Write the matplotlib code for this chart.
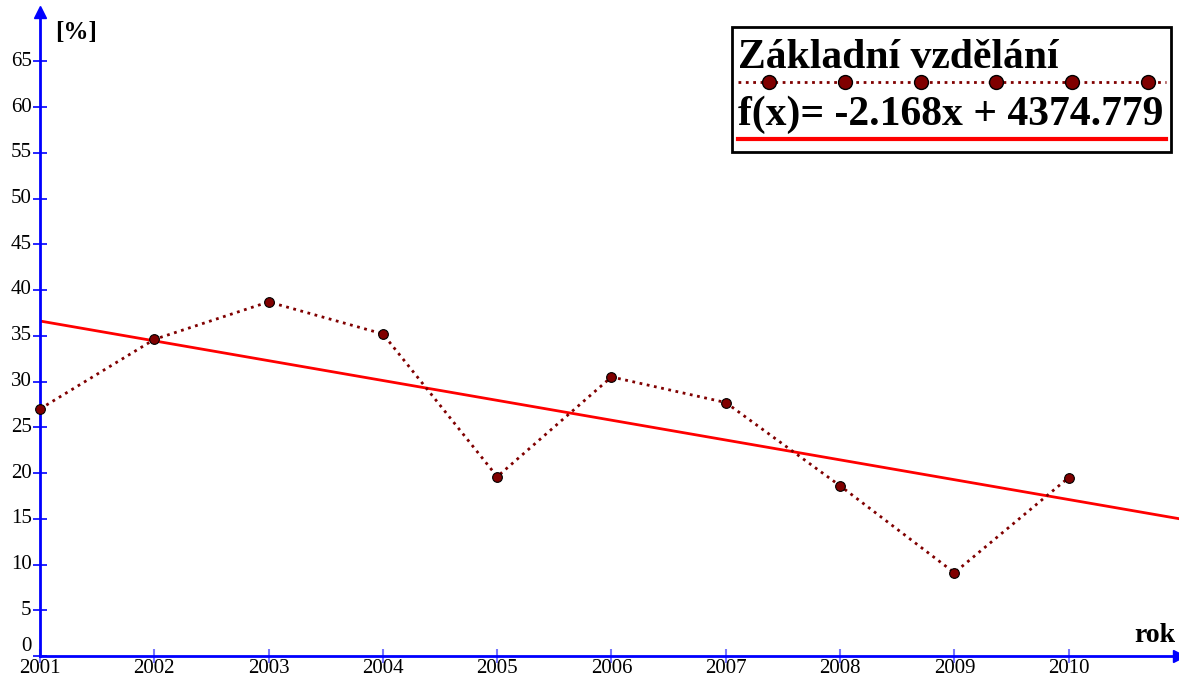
import numpy as np
import matplotlib.pyplot as plt

plt.rcParams['font.family'] = ['Liberation Serif', 'DejaVu Serif']

# ============================================================
# 数据
# ============================================================
roky = [2001, 2002, 2003, 2004, 2005, 2006, 2007, 2008, 2009, 2010]
procenta = [27.0, 34.6, 38.7, 35.2, 19.6, 30.5, 27.7, 18.6, 9.1, 19.5]
y_ticks = [0, 5, 10, 15, 20, 25, 30, 35, 40, 45, 50, 55, 60, 65]

# regresní přímka f(x) = a*x + b
a, b = -2.168, 4374.779

W, H = 1179, 682
fig = plt.figure(figsize=(W / 100, H / 100), dpi=100)
ax = fig.add_axes([40 / W, (H - 656) / H, (W - 40) / W, 644 / H])

x_max = 2001 + (W - 40) / 114.3
y_max = 644 / 9.15
ax.set_xlim(2001, x_max)
ax.set_ylim(0, y_max)

# data + trend
xs = np.array([2001, x_max])
ax.plot(xs, a * xs + b, color='#ff0000', linewidth=2, zorder=2)
ax.plot(roky, procenta, linestyle=':', color='#800000', linewidth=2,
        marker='o', markersize=7, markerfacecolor='#800000',
        markeredgecolor='black', markeredgewidth=0.8, zorder=3, clip_on=False)

# osy
for s in ['top', 'right']:
    ax.spines[s].set_visible(False)
for s in ['left', 'bottom']:
    ax.spines[s].set_color('#0000ff')
    ax.spines[s].set_linewidth(2)
ax.plot(1, 0, '>', color='#0000ff', markersize=9, transform=ax.transAxes, clip_on=False)
ax.plot(0, 1, '^', color='#0000ff', markersize=9, transform=ax.transAxes, clip_on=False)

ax.set_yticks(y_ticks)
ax.set_yticklabels([str(v) for v in y_ticks])
ax.set_xticks(roky)
ax.set_xticklabels([str(v) for v in roky])
ax.tick_params(axis='y', direction='inout', length=10, width=1.2, color='#0000ff',
               labelsize=15, pad=1)
ax.tick_params(axis='x', direction='inout', length=10, width=1.5, color='#7777ff',
               labelsize=15, pad=-3)
for lbl in ax.get_yticklabels():
    lbl.set_verticalalignment('center')
ax.get_yticklabels()[0].set_verticalalignment('bottom')

fig.text(55 / W, 1 - 32 / H, '[%]', fontsize=18, fontweight='bold', va='center', ha='left')
fig.text(1175 / W, 1 - 636 / H, 'rok', fontsize=20, fontweight='bold', va='center', ha='right')

# legenda
box = plt.Rectangle((732 / W, 1 - 152 / H), (1171 - 732) / W, (152 - 27) / H,
                    transform=fig.transFigure, fill=True, facecolor='white',
                    edgecolor='black', linewidth=2, zorder=5)
fig.add_artist(box)
fig.text(738 / W, 1 - 58 / H, 'Základní vzdělání', fontsize=30, fontweight='bold',
         va='center', ha='left', zorder=6)
lx = np.array([738, 769, 845, 921, 996, 1072, 1148, 1166]) / W
fig.add_artist(plt.Line2D(lx, [1 - 82 / H] * len(lx), transform=fig.transFigure,
                          linestyle=':', color='#800000', linewidth=2, zorder=6))
fig.add_artist(plt.Line2D(lx[1:-1], [1 - 82 / H] * 6, transform=fig.transFigure,
                          linestyle='none', marker='o', markersize=10,
                          markerfacecolor='#800000', markeredgecolor='black', zorder=7))
fig.text(738 / W, 1 - 115 / H, f'f(x)= {a}x + {b}', fontsize=30, fontweight='bold',
         va='center', ha='left', zorder=6)
fig.add_artist(plt.Line2D([738 / W, 1166 / W], [1 - 139 / H] * 2, transform=fig.transFigure,
                          color='#ff0000', linewidth=3, zorder=6))

fig.savefig('out.png', dpi=100)
